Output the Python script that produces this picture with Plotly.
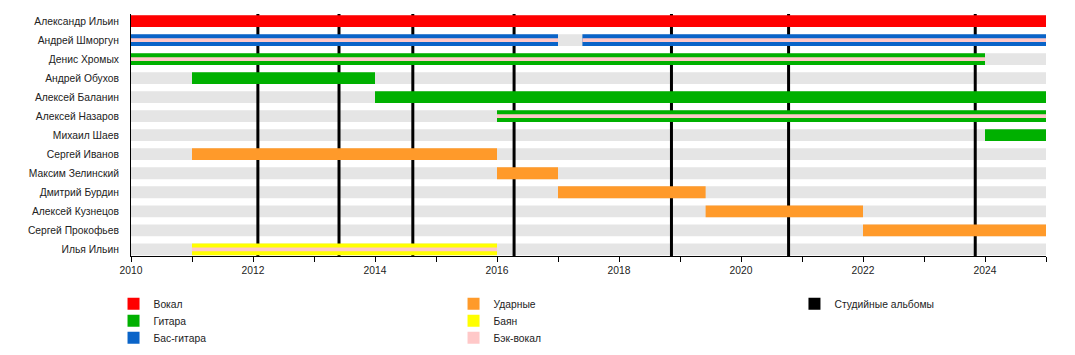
import plotly.graph_objects as go

# ---------------- data ----------------
members = ["Александр Ильин", "Андрей Шморгун", "Денис Хромых", "Андрей Обухов",
           "Алексей Баланин", "Алексей Назаров", "Михаил Шаев", "Сергей Иванов",
           "Максим Зелинский", "Дмитрий Бурдин", "Алексей Кузнецов",
           "Сергей Прокофьев", "Илья Ильин"]

timeline_start = 2010.0
timeline_end = 2025.0

vocal_member = ["Александр Ильин"]
vocal_start = [2010.0]
vocal_end = [2025.0]

guitar_member = ["Денис Хромых", "Андрей Обухов", "Алексей Баланин", "Алексей Назаров", "Михаил Шаев"]
guitar_start = [2010.0, 2011.0, 2014.0, 2016.0, 2024.0]
guitar_end = [2024.0, 2014.0, 2025.0, 2025.0, 2025.0]

bass_member = ["Андрей Шморгун", "Андрей Шморгун"]
bass_start = [2010.0, 2017.4]
bass_end = [2017.0, 2025.0]

drums_member = ["Сергей Иванов", "Максим Зелинский", "Дмитрий Бурдин", "Алексей Кузнецов", "Сергей Прокофьев"]
drums_start = [2011.0, 2016.0, 2017.0, 2019.42, 2022.0]
drums_end = [2016.0, 2017.0, 2019.42, 2022.0, 2025.0]

accordion_member = ["Илья Ильин"]
accordion_start = [2011.0]
accordion_end = [2016.0]

backing_member = ["Андрей Шморгун", "Андрей Шморгун", "Денис Хромых", "Алексей Назаров", "Илья Ильин"]
backing_start = [2010.0, 2017.4, 2010.0, 2016.0, 2011.0]
backing_end = [2017.0, 2025.0, 2024.0, 2025.0, 2016.0]

album_years = [2012.08, 2013.41, 2014.62, 2016.28, 2018.86, 2020.78, 2023.84]

# ---------------- styles ----------------
FONT = "Liberation Sans, Arial, sans-serif"
FS = 10.3
C_GRAY = "#e5e5e5"
main_w = 0.62
stripe_w = 0.2
y_top, y_bottom = -0.37, 12.35

# legend slot positions (paper coords), one legend per entry
leg_cols = [-0.0191, 0.3525, 0.7251]
leg_rows = [-0.1376, -0.2078, -0.2781]

fig = go.Figure()

row = {m: i for i, m in enumerate(members)}


def add_bars(name, mem, st, en, color, width, legend, axes=("x2", "y2"), showlegend=True):
    fig.add_trace(go.Bar(
        orientation="h", name=name,
        y=[row[m] for m in mem], base=st, x=[e - s for s, e in zip(st, en)],
        width=width, marker=dict(color=color, line=dict(width=0)),
        xaxis=axes[0], yaxis=axes[1], legend=legend, showlegend=showlegend,
        hoverinfo="skip"))


# background rows (main subplot)
add_bars("bg", members, [timeline_start] * len(members), [timeline_end] * len(members),
         C_GRAY, main_w, "legend", axes=("x", "y"), showlegend=False)

# album lines (main subplot, above background, below member bars)
ax, ay = [], []
for a in album_years:
    ax += [a, a, None]
    ay += [y_top, y_bottom, None]
fig.add_trace(go.Scatter(x=ax, y=ay, mode="lines", line=dict(color="black", width=3),
                         showlegend=False, hoverinfo="skip", xaxis="x", yaxis="y"))

# member bars (overlay subplot)
add_bars("Вокал", vocal_member, vocal_start, vocal_end, "#ff0000", main_w, "legend")
add_bars("Гитара", guitar_member, guitar_start, guitar_end, "#00b000", main_w, "legend2")
add_bars("Бас-гитара", bass_member, bass_start, bass_end, "#0a64c8", main_w, "legend3")
add_bars("Ударные", drums_member, drums_start, drums_end, "#ff9a2a", main_w, "legend4")
add_bars("Баян", accordion_member, accordion_start, accordion_end, "#ffff00", main_w, "legend5")
add_bars("Бэк-вокал", backing_member, backing_start, backing_end, "#ffc8c8", stripe_w, "legend6")

# legend-only entry for albums
fig.add_trace(go.Bar(orientation="h", name="Студийные альбомы", x=[None], y=[None],
                     marker=dict(color="black", line=dict(width=0)),
                     xaxis="x2", yaxis="y2", legend="legend7", hoverinfo="skip"))

leg_common = dict(orientation="v", yanchor="top", xanchor="left",
                  font=dict(family=FONT, size=FS, color="#222"),
                  bgcolor="rgba(0,0,0,0)", borderwidth=0, tracegroupgap=0,
                  itemclick=False, itemdoubleclick=False)

slots = [(0, 0), (0, 1), (0, 2), (1, 0), (1, 1), (1, 2), (2, 0)]
legends = {}
for i, (c, r) in enumerate(slots):
    key = "legend" if i == 0 else f"legend{i + 1}"
    legends[key] = dict(x=leg_cols[c], y=leg_rows[r], **leg_common)

fig.update_layout(
    width=1059, height=339,
    margin=dict(l=123, r=21, t=6, b=91, autoexpand=False),
    paper_bgcolor="white", plot_bgcolor="white",
    barmode="overlay",
    font=dict(family=FONT, size=FS, color="#222"),
    xaxis=dict(range=[timeline_start, timeline_end], showgrid=False, zeroline=False,
               automargin=False,
               showline=True, linecolor="black", linewidth=1,
               ticks="outside", ticklen=5, tickcolor="black", tickwidth=1,
               tick0=2010, dtick=2,
               minor=dict(dtick=1, ticks="outside", ticklen=5, tickcolor="black", tickwidth=1),
               tickfont=dict(family=FONT, size=FS, color="#222")),
    yaxis=dict(range=[y_bottom, y_top], showgrid=False, zeroline=False,
               automargin=False,
               showline=True, linecolor="black", linewidth=1,
               tickvals=list(range(len(members))), ticktext=members, ticks="",
               ticklabelstandoff=9,
               tickfont=dict(family=FONT, size=FS, color="#222")),
    xaxis2=dict(overlaying="x", range=[timeline_start, timeline_end], visible=False,
                automargin=False),
    yaxis2=dict(overlaying="y", range=[y_bottom, y_top], visible=False,
                automargin=False),
    showlegend=True,
    **legends,
)

fig.write_html("out.html")
